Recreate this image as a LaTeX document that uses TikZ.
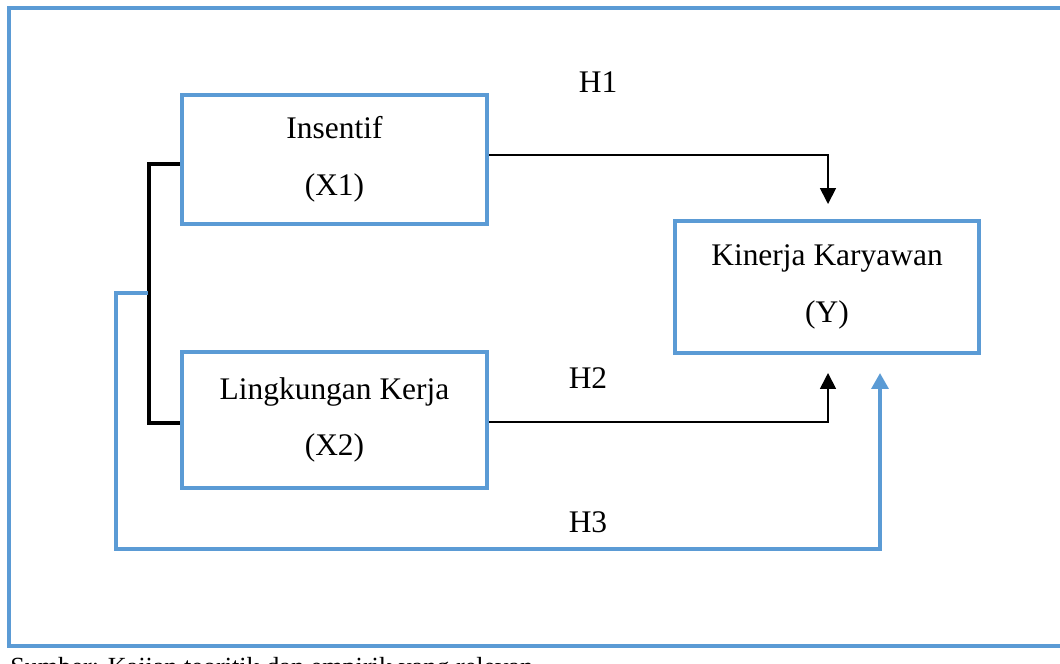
\documentclass[tikz,border=0pt]{standalone}
\usepackage{fontspec}
\setmainfont{Liberation Serif}
\usetikzlibrary{arrows.meta}
\definecolor{frameblue}{RGB}{91,155,213}
\begin{document}
\begin{tikzpicture}[x=0.02cm,y=-0.02cm,
  boxstyle/.style={draw=frameblue,line width=2.3pt,fill=white,inner sep=0pt,align=center,
    font=\fontsize{17.9}{32.3}\selectfont},
  blackarrow/.style={draw=black,line width=1pt,-{Triangle[width=9pt,length=9pt]}},
  bluearrow/.style={draw=frameblue,line width=2.1pt,-{Triangle[width=9.5pt,length=9pt]}},
  bracketline/.style={draw=black,line width=2pt},
  framel/.style={draw=frameblue,line width=2.3pt},
  lbl/.style={font=\fontsize{17.9}{20}\selectfont,inner sep=0pt}]
\useasboundingbox (0,0) rectangle (1060,663);
\clip (0,0) rectangle (1060,663);
% outer frame
\draw[framel] (1070,8) -- (9,8) -- (9,646) -- (1070,646);
\node[anchor=base west,inner sep=0pt,font=\fontsize{14.9}{16}\selectfont] (src) at (10,675) {Sumber: Kajian teoritik dan empirik yang relevan};
% boxes
\node[boxstyle,minimum width=305*0.02cm,minimum height=129*0.02cm] (x1) at (334.5,159.5) {Insentif\\(X1)};
\node[boxstyle,minimum width=304*0.02cm,minimum height=132*0.02cm] (y) at (827,287) {Kinerja Karyawan\\(Y)};
\node[boxstyle,minimum width=305*0.02cm,minimum height=136*0.02cm] (x2) at (334.5,420) {Lingkungan Kerja\\(X2)};
% labels
\node[lbl] (h1) at (598,82) {H1};
\node[lbl] (h2) at (588,378) {H2};
\node[lbl] (h3) at (588,522) {H3};
% H1 and H2 arrows
\coordinate (c1) at (828,155);
\coordinate (t1) at (828,204);
\coordinate (c2) at (828,422);
\coordinate (t2) at (828,373);
\draw[blackarrow] (x1.east |- c1) -- (c1) -- (t1);
\draw[blackarrow] (x2.east |- c2) -- (c2) -- (t2);
% bracket
\coordinate (bt) at (149,164);
\coordinate (bb) at (149,423);
\draw[bracketline] (x1.west |- bt) -- (bt) -- (bb) -- (x2.west |- bb);
% H3
\coordinate (b0) at (148,293);
\coordinate (b1) at (116,293);
\coordinate (b2) at (116,549);
\coordinate (b3) at (880,549);
\coordinate (b4) at (880,373);
\draw[bluearrow] (b0) -- (b1) -- (b2) -- (b3) -- (b4);
\end{tikzpicture}
\end{document}
